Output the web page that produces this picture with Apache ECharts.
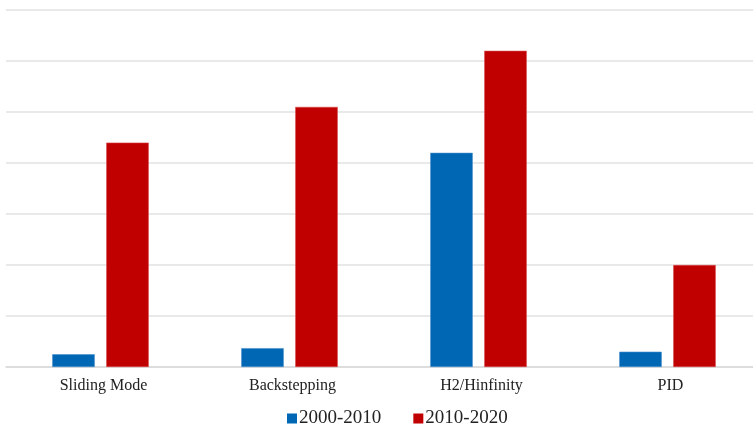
<!DOCTYPE html>
<html>
<head>
<meta charset="utf-8">
<script src="https://cdn.jsdelivr.net/npm/echarts@6/dist/echarts.min.js"></script>
<style>
  html, body { margin: 0; padding: 0; background: #ffffff; overflow: hidden; }
  #chart { width: 762px; height: 427px; }
</style>
</head>
<body>
<div id="chart"></div>
<script>
// Control methods compared across two decades
const categories = ['Sliding Mode', 'Backstepping', 'H2/Hinfinity', 'PID'];
const seriesNames = ['2000-2010', '2010-2020'];
const values2000 = [2.5, 3.7, 42, 3];
const values2010 = [44, 51, 62, 20];

const chart = echarts.init(document.getElementById('chart'));
const font = '"Liberation Serif", "Times New Roman", serif';

chart.setOption({
  animation: false,
  textStyle: { fontFamily: font },
  grid: { left: 6, right: 0, top: 10, bottom: 60, containLabel: false },
  legend: {
    data: seriesNames,
    top: 404,
    left: 282,
    itemWidth: 10,
    itemHeight: 10,
    itemGap: 32,
    icon: 'rect',
    itemStyle: { borderWidth: 0 },
    textStyle: { fontFamily: font, fontSize: 19, color: '#222', padding: [0, 0, 0, -3] }
  },
  xAxis: {
    type: 'category',
    data: categories,
    axisLine: { show: true, lineStyle: { color: '#d9d9d9', width: 1.5 } },
    axisTick: { show: false },
    axisLabel: { fontFamily: font, fontSize: 16, color: '#222', margin: 11, padding: [0, 0, 0, 6] }
  },
  yAxis: {
    type: 'value',
    min: 0,
    max: 70,
    interval: 10,
    axisLabel: { show: false },
    axisLine: { show: false },
    axisTick: { show: false },
    splitLine: { lineStyle: { color: '#e2e2e2', width: 1.5 } }
  },
  series: [
    {
      name: seriesNames[0],
      type: 'bar',
      data: values2000,
      barWidth: '22.5%',
      barGap: '27%',
      itemStyle: { color: '#0067b4', borderColor: '#4a8fcc', borderWidth: 0.6 }
    },
    {
      name: seriesNames[1],
      type: 'bar',
      data: values2010,
      barWidth: '22.5%',
      itemStyle: { color: '#c00000', borderColor: '#d84a4a', borderWidth: 0.6 }
    }
  ]
});
</script>
</body>
</html>
